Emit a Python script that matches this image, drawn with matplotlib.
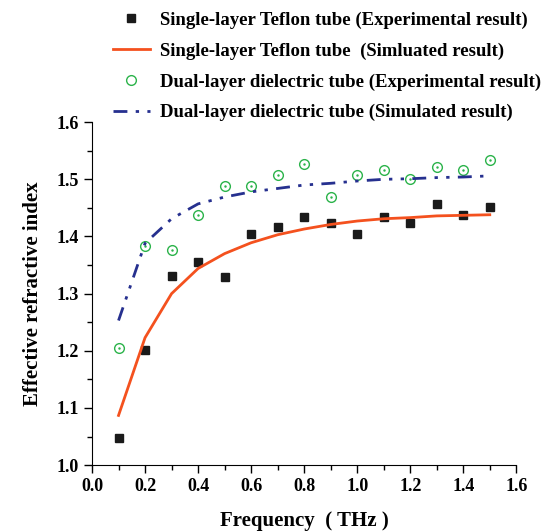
import matplotlib
matplotlib.use("Agg")
import matplotlib.pyplot as plt
from matplotlib.ticker import MultipleLocator

plt.rcParams['font.family'] = ['Liberation Serif', 'DejaVu Serif']
plt.rcParams['font.weight'] = 'bold'

# frequency (THz)
freq = [0.1, 0.2, 0.3, 0.4, 0.5, 0.6, 0.7, 0.8, 0.9, 1.0, 1.1, 1.2, 1.3, 1.4, 1.5]

# single-layer teflon tube
single_exp = [1.048, 1.202, 1.331, 1.356, 1.329, 1.405, 1.416, 1.434, 1.424, 1.405,
              1.434, 1.424, 1.456, 1.438, 1.451]
single_sim = [1.087, 1.223, 1.300, 1.344, 1.370, 1.389, 1.403, 1.413, 1.421, 1.427,
              1.431, 1.433, 1.436, 1.437, 1.438]

# dual-layer dielectric tube
dual_exp = [1.205, 1.384, 1.376, 1.437, 1.489, 1.489, 1.507, 1.527, 1.469, 1.507,
            1.517, 1.501, 1.522, 1.517, 1.534]
dual_sim = [1.253, 1.388, 1.431, 1.457, 1.469, 1.478, 1.484, 1.490, 1.493, 1.497,
            1.500, 1.501, 1.503, 1.504, 1.506]

labels = ["Single-layer Teflon tube (Experimental result)",
          "Single-layer Teflon tube  (Simluated result)",
          "Dual-layer dielectric tube (Experimental result)",
          "Dual-layer dielectric tube (Simulated result)"]

fig = plt.figure(figsize=(5.51, 5.31), dpi=100)
ax = fig.add_axes([0.167, 0.124, 0.770, 0.646])

h1, = ax.plot(freq, single_exp, 's', color='#1a1a1a', markersize=6, linestyle='none')
h2, = ax.plot(freq, single_sim, '-', color='#f4511e', linewidth=2)
h3, = ax.plot(freq, dual_exp, 'o', markerfacecolor='none', markeredgecolor='#2bb34a',
              markersize=7, markeredgewidth=1, linestyle='none')
ax.plot(freq, dual_exp, '.', color='#2bb34a', markersize=1.5, linestyle='none')
h4, = ax.plot(freq, dual_sim, color='#26308f', linewidth=2,
              linestyle=(0, (5, 3, 1.2, 3, 1.2, 3)))

ax.set_xlim(0.0, 1.6)
ax.set_ylim(1.0, 1.6)
ax.xaxis.set_major_locator(MultipleLocator(0.2))
ax.xaxis.set_minor_locator(MultipleLocator(0.1))
ax.yaxis.set_major_locator(MultipleLocator(0.1))
ax.yaxis.set_minor_locator(MultipleLocator(0.05))
ax.spines['top'].set_visible(False)
ax.spines['right'].set_visible(False)
ax.tick_params(which='both', direction='out', width=1)
ax.tick_params(which='major', length=6, labelsize=13)
ax.tick_params(which='minor', length=3.5)
for lab in ax.get_xticklabels() + ax.get_yticklabels():
    lab.set_fontweight('bold')

ax.set_xlabel("Frequency  ( THz )", fontsize=15, fontweight='bold', labelpad=11)
ax.set_ylabel("Effective refractive index", fontsize=15, fontweight='bold', labelpad=10)

fig.legend([h1, h2, h3, h4], labels, loc='upper left', bbox_to_anchor=(0.174, 1.01),
           frameon=False, prop={'size': 13.5, 'weight': 'bold'}, handlelength=2.0,
           labelspacing=0.72, handletextpad=0.5)

fig.savefig("out.png", dpi=100)
